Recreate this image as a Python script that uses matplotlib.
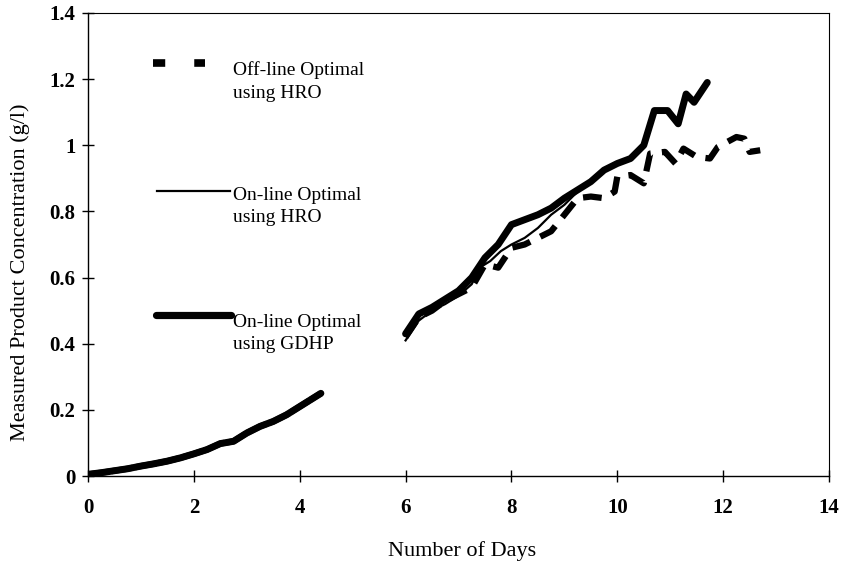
import numpy as np
import matplotlib.pyplot as plt

# valeurs (jours, concentration g/l)
days_early = [0.0, 0.25, 0.5, 0.75, 1.0, 1.25, 1.5, 1.75, 2.0, 2.25, 2.5, 2.75,
              3.0, 3.25, 3.5, 3.75, 4.0, 4.2, 4.4]
conc_early = [0.005, 0.01, 0.016, 0.022, 0.03, 0.037, 0.045, 0.055, 0.067, 0.08,
              0.098, 0.105, 0.13, 0.15, 0.165, 0.185, 0.21, 0.23, 0.25]

days_offline = [6.0, 6.25, 6.5, 6.75, 7.0, 7.25, 7.5, 7.75, 8.0, 8.25, 8.5, 8.75,
                9.0, 9.25, 9.5, 9.75, 9.95, 10.0, 10.25, 10.5, 10.62, 10.9, 11.1,
                11.25, 11.5, 11.75, 11.9, 12.25, 12.4, 12.5, 12.7]
conc_offline = [0.42, 0.48, 0.50, 0.53, 0.55, 0.57, 0.64, 0.63, 0.69, 0.70, 0.72, 0.74,
                0.79, 0.84, 0.845, 0.84, 0.86, 0.905, 0.91, 0.885, 0.975, 0.98, 0.945,
                0.99, 0.965, 0.96, 0.995, 1.025, 1.02, 0.98, 0.985]

days_hro = [6.0, 6.25, 6.5, 6.75, 7.0, 7.25, 7.4, 7.6, 7.8, 8.0, 8.25, 8.5, 8.75,
            9.0, 9.25, 9.5, 9.75, 10.0, 10.25, 10.5, 10.7, 10.95, 11.15, 11.3, 11.45, 11.7]
conc_hro = [0.41, 0.47, 0.50, 0.52, 0.545, 0.58, 0.63, 0.65, 0.68, 0.70, 0.72, 0.75, 0.79,
            0.82, 0.86, 0.885, 0.92, 0.945, 0.965, 1.0, 1.10, 1.10, 1.065, 1.15, 1.125, 1.185]

days_gdhp = [6.0, 6.25, 6.5, 6.75, 7.0, 7.25, 7.5, 7.75, 8.0, 8.25, 8.5, 8.75, 9.0,
             9.25, 9.5, 9.75, 10.0, 10.25, 10.5, 10.7, 10.95, 11.15, 11.3, 11.45, 11.7]
conc_gdhp = [0.43, 0.49, 0.51, 0.535, 0.56, 0.60, 0.66, 0.70, 0.76, 0.775, 0.79, 0.81, 0.84,
             0.865, 0.89, 0.925, 0.945, 0.96, 1.0, 1.105, 1.105, 1.065, 1.155, 1.13, 1.19]

labels = ["Off-line Optimal\nusing HRO", "On-line Optimal\nusing HRO", "On-line Optimal\nusing GDHP"]

plt.rcParams['font.family'] = ['Liberation Serif', 'DejaVu Serif']

fig = plt.figure(figsize=(8.42, 5.70), dpi=100)
ax = fig.add_axes([0.1045, 0.1649, 0.8801, 0.8123])

# partie commune du début (les trois courbes se superposent)
ax.plot(days_early, conc_early, color='black', lw=1.6)
ax.plot(days_early, conc_early, color='black', lw=4.5, dashes=(3.5, 0.3))
ax.plot(days_early, conc_early, color='black', lw=5.0, solid_capstyle='round')

# courbes après le jour 6
ax.plot(days_offline, conc_offline, color='black', lw=4.5, dashes=(3.0, 1.8))
ax.plot(days_hro, conc_hro, color='black', lw=1.6)
ax.plot(days_gdhp, conc_gdhp, color='black', lw=5.0, solid_capstyle='round',
        solid_joinstyle='round')

ax.set_xlim(0, 14)
ax.set_ylim(0, 1.4)
ax.set_xticks(np.arange(0, 15, 2))
ax.set_yticks(np.arange(0, 1.41, 0.2))
ax.set_yticklabels(['0', '0.2', '0.4', '0.6', '0.8', '1', '1.2', '1.4'])
ax.tick_params(direction='inout', length=8, width=1, labelsize=15)
ax.tick_params(axis='x', pad=12)
ax.tick_params(axis='y', pad=5)
for lab in ax.get_xticklabels() + ax.get_yticklabels():
    lab.set_fontweight('bold')
for s in ax.spines.values():
    s.set_linewidth(1.0)
ax.spines['top'].set_linewidth(0.8)
ax.spines['right'].set_linewidth(0.8)

ax.set_xlabel("Number of Days", fontsize=16)
ax.set_ylabel("Measured Product Concentration (g/l)", fontsize=16)
ax.xaxis.set_label_coords(0.505, -0.14)
ax.yaxis.set_label_coords(-0.078, 0.44)

# légende dessinée à la main
leg_styles = [dict(lw=5.5, dashes=(1.6, 3.8)), dict(lw=1.6), dict(lw=5.2, solid_capstyle='round')]
leg_x = [(0.088, 0.158), (0.093, 0.192), (0.092, 0.193)]
leg_y = [0.893, 0.616, 0.348]
txt_y = [0.852, 0.582, 0.307]
for lab, st, lx, ly, ty in zip(labels, leg_styles, leg_x, leg_y, txt_y):
    ax.plot(lx, [ly, ly], color='black', transform=ax.transAxes, clip_on=False, **st)
    ax.text(0.196, ty, lab, transform=ax.transAxes, fontsize=14, va='center',
            ha='left', linespacing=1.4)

fig.savefig("out.png", dpi=100)
